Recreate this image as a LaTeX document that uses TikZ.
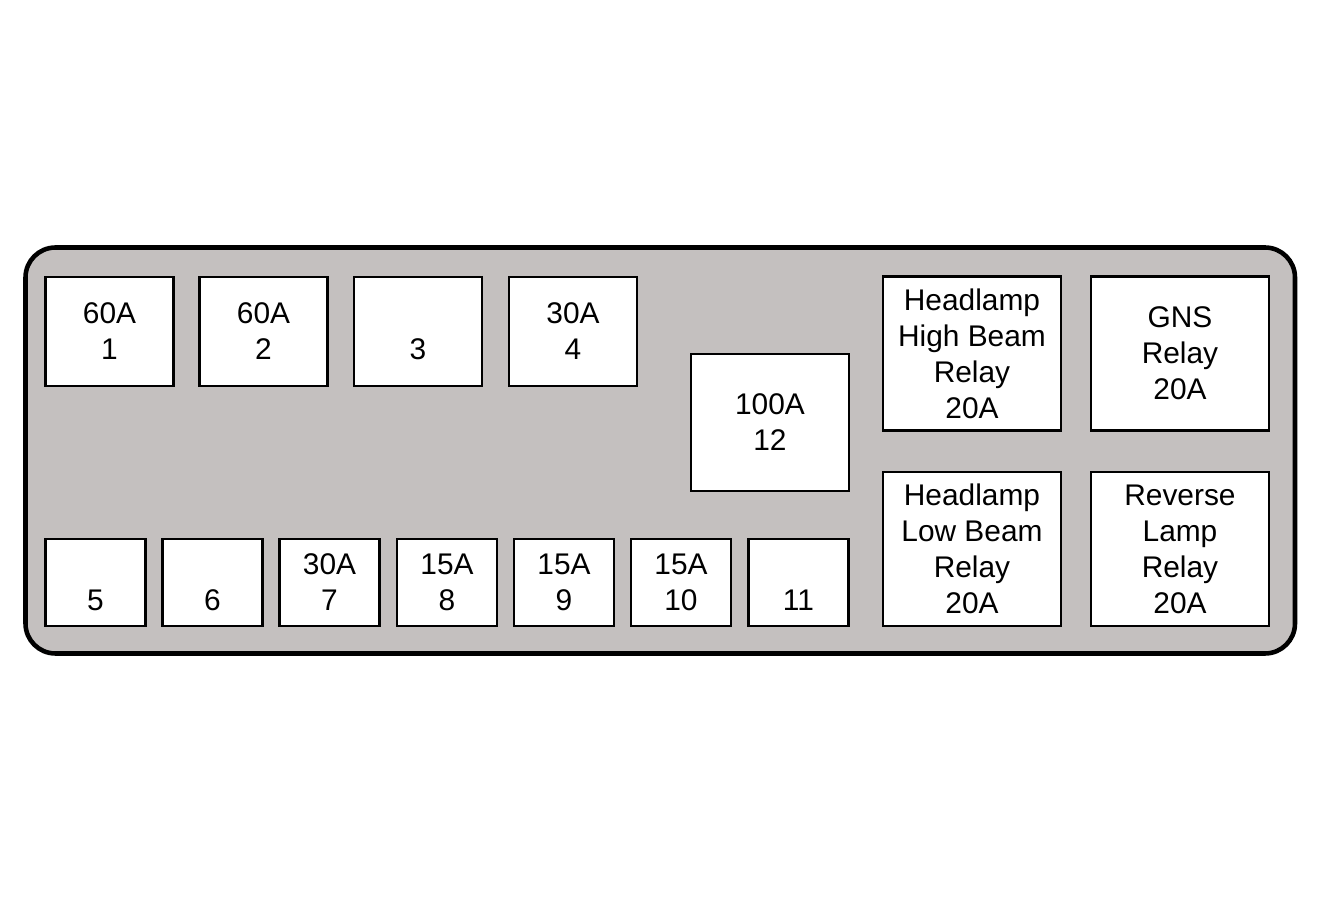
\documentclass[tikz,border=0pt]{standalone}
\usepackage{fontspec}
\setmainfont{Liberation Sans}
\definecolor{panelgray}{RGB}{196,192,191}

\begin{document}
\begin{tikzpicture}[fuse/.style = {draw, line width=0.8pt, fill=white, align=center, inner sep=0pt, font=\fontsize{8.5}{10.25}\selectfont},
	small/.style = {fuse, minimum width=1.0cm, minimum height=0.87cm},
	big/.style = {fuse, minimum width=1.28cm, minimum height=1.09cm},
	relay/.style = {fuse, minimum width=1.78cm, minimum height=1.54cm}]
	\useasboundingbox (0,0) rectangle (13.21,-9.01);
	\draw[line width=1.3pt, fill=panelgray, rounded corners=0.3cm] (0.255,-2.475) rectangle (12.95,-6.535);
	% top row
	\node[big] (f1) at (1.095,-3.315) {60A\\1};
	\node[big] (f2) at (2.635,-3.315) {60A\\2};
	\node[big] (f3) at (4.18,-3.315) {\phantom{0A}\\3};
	\node[big] (f4) at (5.73,-3.315) {30A\\4};
	\node[fuse, minimum width=1.58cm, minimum height=1.37cm] (f12) at (7.70,-4.225) {100A\\12};
	% relays
	\node[relay] (hb) at (9.72,-3.535) {Headlamp\\High Beam\\Relay\\20A};
	\node[relay] (gns) at (11.80,-3.535) {GNS\\Relay\\20A};
	\node[relay] (lb) at (9.72,-5.49) {Headlamp\\Low Beam\\Relay\\20A};
	\node[relay] (rev) at (11.80,-5.49) {Reverse\\Lamp\\Relay\\20A};
	% bottom row
	\node[small] (f5) at (0.955,-5.825) {\phantom{0A}\\5};
	\node[small] (f6) at (2.125,-5.825) {\phantom{0A}\\6};
	\node[small] (f7) at (3.295,-5.825) {30A\\7};
	\node[small] (f8) at (4.47,-5.825) {15A\\8};
	\node[small] (f9) at (5.64,-5.825) {15A\\9};
	\node[small] (f10) at (6.81,-5.825) {15A\\10};
	\node[small] (f11) at (7.985,-5.825) {\phantom{0A}\\11};
\end{tikzpicture}
\end{document}
